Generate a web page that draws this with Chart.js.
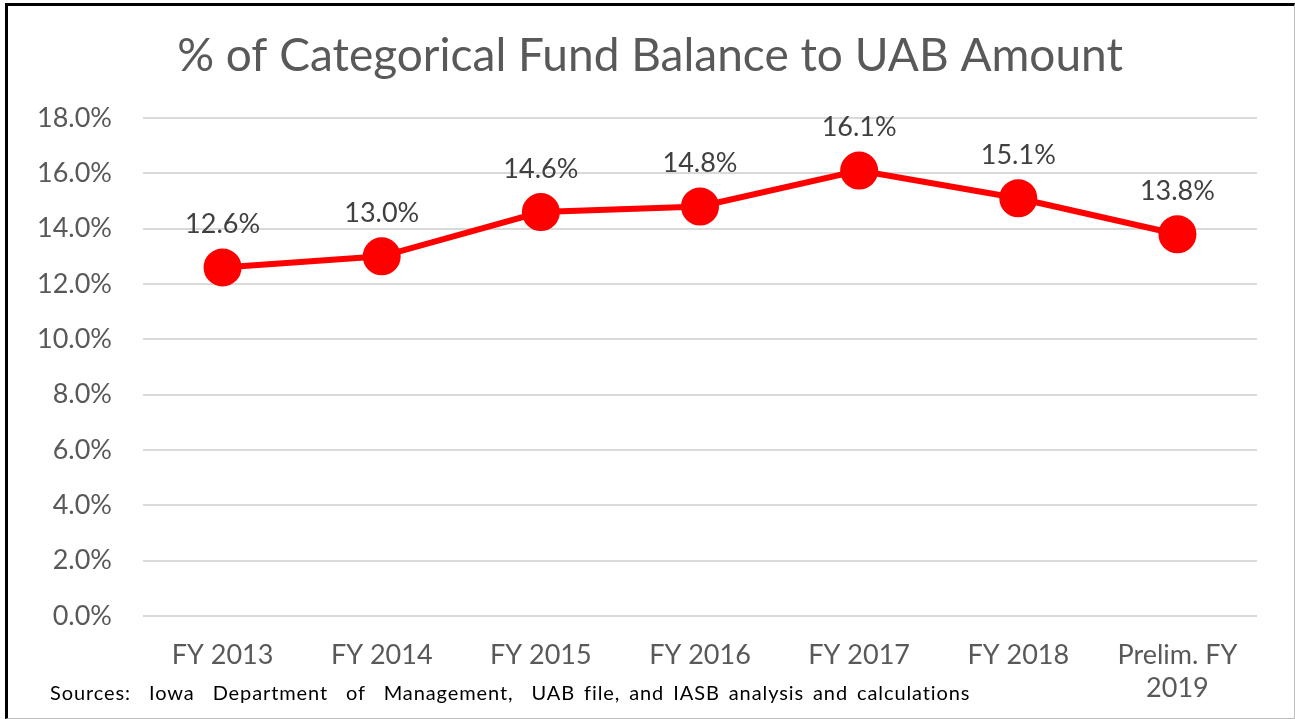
<!DOCTYPE html>
<html>
<head>
<meta charset="utf-8">
<script src="https://cdn.jsdelivr.net/npm/chart.js@4/dist/chart.umd.min.js"></script>
<style>
body { margin: 0; background: #fff; }
#frame {
    position: absolute; left: 5px; top: 3px; width: 1286px; height: 712px;
    border-left: 3px solid #000; border-top: 3px solid #000;
    border-right: 1px solid #bdbdbd; border-bottom: 1px solid #bdbdbd;
}
#wrap { position: absolute; left: 0; top: 0; width: 1295px; height: 719px; }
#src {
    position: absolute; left: 50px; top: 680px;
    font-family: Lato, sans-serif; font-size: 20px; color: #000;
    white-space: pre; word-spacing: 3px; letter-spacing: 0.9px;
}
</style>
</head>
<body>
<div id="frame"></div>
<div id="wrap"><canvas id="myChart" width="1295" height="719"></canvas></div>
<div id="src">Sources:  Iowa  Department  of  Management,  UAB file, and IASB analysis and calculations</div>
<script>
var titleText = '% of Categorical Fund Balance to UAB Amount';
var years = ["FY 2013", "FY 2014", "FY 2015", "FY 2016", "FY 2017", "FY 2018", ["Prelim. FY", "2019"]];
var pct = [12.6, 13.0, 14.6, 14.8, 16.1, 15.1, 13.8];
var yTicks = [0, 2, 4, 6, 8, 10, 12, 14, 16, 18];

// labels over the points, like excel data labels
var valueLabels = {
    id: 'valueLabels',
    afterDatasetsDraw: function(chart) {
        var ctx = chart.ctx;
        var meta = chart.getDatasetMeta(0);
        ctx.save();
        ctx.font = '27px Lato';
        ctx.fillStyle = '#404040';
        ctx.textAlign = 'center';
        ctx.textBaseline = 'middle';
        for (var i = 0; i < meta.data.length; i++) {
            var p = meta.data[i];
            ctx.fillText(pct[i].toFixed(1) + '%', p.x, p.y - 43);
        }
        ctx.restore();
    }
};

// title centred on the whole picture, not only the plot
var pageTitle = {
    id: 'pageTitle',
    afterDraw: function(chart) {
        var ctx = chart.ctx;
        ctx.save();
        ctx.font = '46px Lato';
        ctx.fillStyle = '#595959';
        ctx.textAlign = 'center';
        ctx.textBaseline = 'middle';
        ctx.fillText(titleText, 650, 56);
        ctx.restore();
    }
};

var ctx = document.getElementById('myChart').getContext('2d');
var myLineChart = new Chart(ctx, {
    type: 'line',
    data: {
        labels: years,
        datasets: [{
            data: pct,
            borderColor: '#ff0000',
            backgroundColor: '#ff0000',
            borderWidth: 6,
            pointRadius: 16,
            pointHoverRadius: 16,
            pointBackgroundColor: '#ff0000',
            pointBorderColor: '#ff0000',
            tension: 0
        }]
    },
    options: {
        responsive: false,
        animation: false,
        layout: { padding: { left: 0, right: 38, top: 118, bottom: 0 } },
        plugins: {
            legend: { display: false },
            tooltip: { enabled: false },
            title: { display: false }
        },
        scales: {
            y: {
                min: 0,
                max: 18,
                afterBuildTicks: function(scale) {
                    scale.ticks = yTicks.map(function(v) { return { value: v }; });
                },
                afterFit: function(scale) { scale.width = 143; },
                grid: { color: '#d9d9d9', lineWidth: 2, drawTicks: false },
                border: { display: false },
                ticks: {
                    color: '#595959',
                    padding: 31,
                    font: { family: 'Lato', size: 27 },
                    callback: function(v) { return v.toFixed(1) + '%'; }
                }
            },
            x: {
                offset: true,
                afterFit: function(scale) { scale.height = 103; },
                grid: { display: false, drawTicks: false, offset: true },
                border: { display: false },
                ticks: {
                    color: '#595959',
                    padding: 22,
                    maxRotation: 0,
                    autoSkip: false,
                    font: { family: 'Lato', size: 27, lineHeight: 1.25 }
                }
            }
        }
    },
    plugins: [valueLabels, pageTitle]
});
</script>
</body>
</html>
